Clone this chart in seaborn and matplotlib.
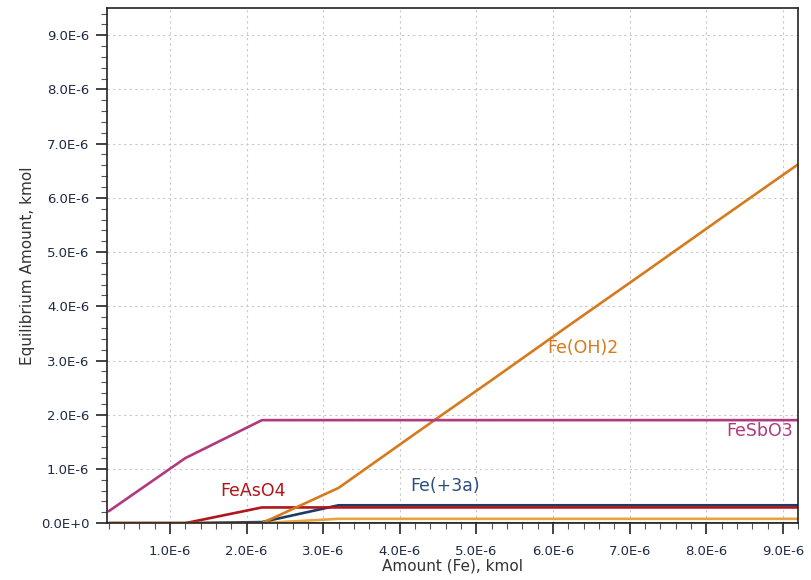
import numpy as np
import pandas as pd
import matplotlib
matplotlib.use("Agg")
import matplotlib.pyplot as plt
import seaborn as sns
from matplotlib.ticker import MultipleLocator, FuncFormatter

# Amount of Fe added, kmol (scaled by 1E-6)
amount_fe = [0.2, 1.2, 2.2, 3.2, 4.2, 5.2, 6.2, 7.2, 8.2, 9.2]

# Equilibrium amounts, kmol (scaled by 1E-6)
fesbo3 = [0.22, 1.20, 1.90, 1.90, 1.90, 1.90, 1.90, 1.90, 1.90, 1.90]
fe_oh2 = [0.0, 0.0, 0.0, 0.65, 1.65, 2.64, 3.64, 4.63, 5.63, 6.62]
feaso4 = [0.0, 0.0, 0.29, 0.29, 0.29, 0.29, 0.29, 0.29, 0.29, 0.29]
fe_3a = [0.0, 0.0, 0.02, 0.33, 0.33, 0.33, 0.33, 0.33, 0.33, 0.33]
minor_gold = [0.0, 0.0, 0.0, 0.08, 0.08, 0.08, 0.08, 0.08, 0.08, 0.08]
minor_purple = [0.0, 0.0, 0.0, 0.0, 0.0, 0.0, 0.0, 0.0, 0.0, 0.0]

series = {
    "minor_purple": minor_purple,
    "minor_gold": minor_gold,
    "Fe(+3a)": fe_3a,
    "FeAsO4": feaso4,
    "Fe(OH)2": fe_oh2,
    "FeSbO3": fesbo3,
}
colors = {
    "minor_purple": "#8E2A7A",
    "minor_gold": "#E6A540",
    "Fe(+3a)": "#1C3C63",
    "FeAsO4": "#B2151B",
    "Fe(OH)2": "#D67A1E",
    "FeSbO3": "#B0397F",
}

rows = []
for name, vals in series.items():
    for x, y in zip(amount_fe, vals):
        rows.append({"amount": x * 1e-6, "value": y * 1e-6, "species": name})
df = pd.DataFrame(rows)

sns.set_style("white")
fig = plt.figure(figsize=(8.12, 5.8), dpi=100)
ax = fig.add_axes([0.132, 0.098, 0.851, 0.888])

sns.lineplot(data=df, x="amount", y="value", hue="species", palette=colors,
             hue_order=list(series.keys()), linewidth=1.9, legend=False, ax=ax)

ax.set_xlim(0.18e-6, 9.2e-6)
ax.set_ylim(0, 9.5e-6)

fmt = FuncFormatter(lambda v, pos: "0.0E+0" if abs(v) < 1e-12 else "%.1fE-6" % (v * 1e6))
ax.xaxis.set_major_locator(MultipleLocator(1e-6))
ax.xaxis.set_minor_locator(MultipleLocator(0.2e-6))
ax.yaxis.set_major_locator(MultipleLocator(1e-6))
ax.yaxis.set_minor_locator(MultipleLocator(0.2e-6))
ax.xaxis.set_major_formatter(fmt)
ax.yaxis.set_major_formatter(fmt)

tick_color = "#1E2A44"
ax.tick_params(which="major", direction="out", length=8, width=1.2, color="#222222",
               labelsize=9.5, labelcolor=tick_color, bottom=True, left=True)
ax.tick_params(which="minor", direction="out", length=4.5, width=0.8, color="#555555",
               bottom=True, left=True)
ax.tick_params(axis="x", which="major", pad=8)
ax.tick_params(axis="y", which="major", pad=5)

ax.grid(True, which="major", linestyle=(0, (2, 3)), color="#C8C8C8", linewidth=0.8)
for side in ax.spines.values():
    side.set_color("#222222")
    side.set_linewidth(1.2)

ax.set_xlabel("Amount (Fe), kmol", fontsize=11, color="#333333", labelpad=0)
ax.set_ylabel("Equilibrium Amount, kmol", fontsize=11, color="#333333", labelpad=4)

# Species labels
ax.text(9.13e-6, 1.70e-6, "FeSbO3", color=colors["FeSbO3"], fontsize=12.5, ha="right", va="center")
ax.text(5.93e-6, 3.23e-6, "Fe(OH)2", color=colors["Fe(OH)2"], fontsize=12.5, ha="left", va="center")
ax.text(1.66e-6, 0.59e-6, "FeAsO4", color=colors["FeAsO4"], fontsize=12.5, ha="left", va="center")
ax.text(4.13e-6, 0.68e-6, "Fe(+3a)", color="#2C4E7E", fontsize=12.5, ha="left", va="center")

fig.savefig("out.png", dpi=100)
